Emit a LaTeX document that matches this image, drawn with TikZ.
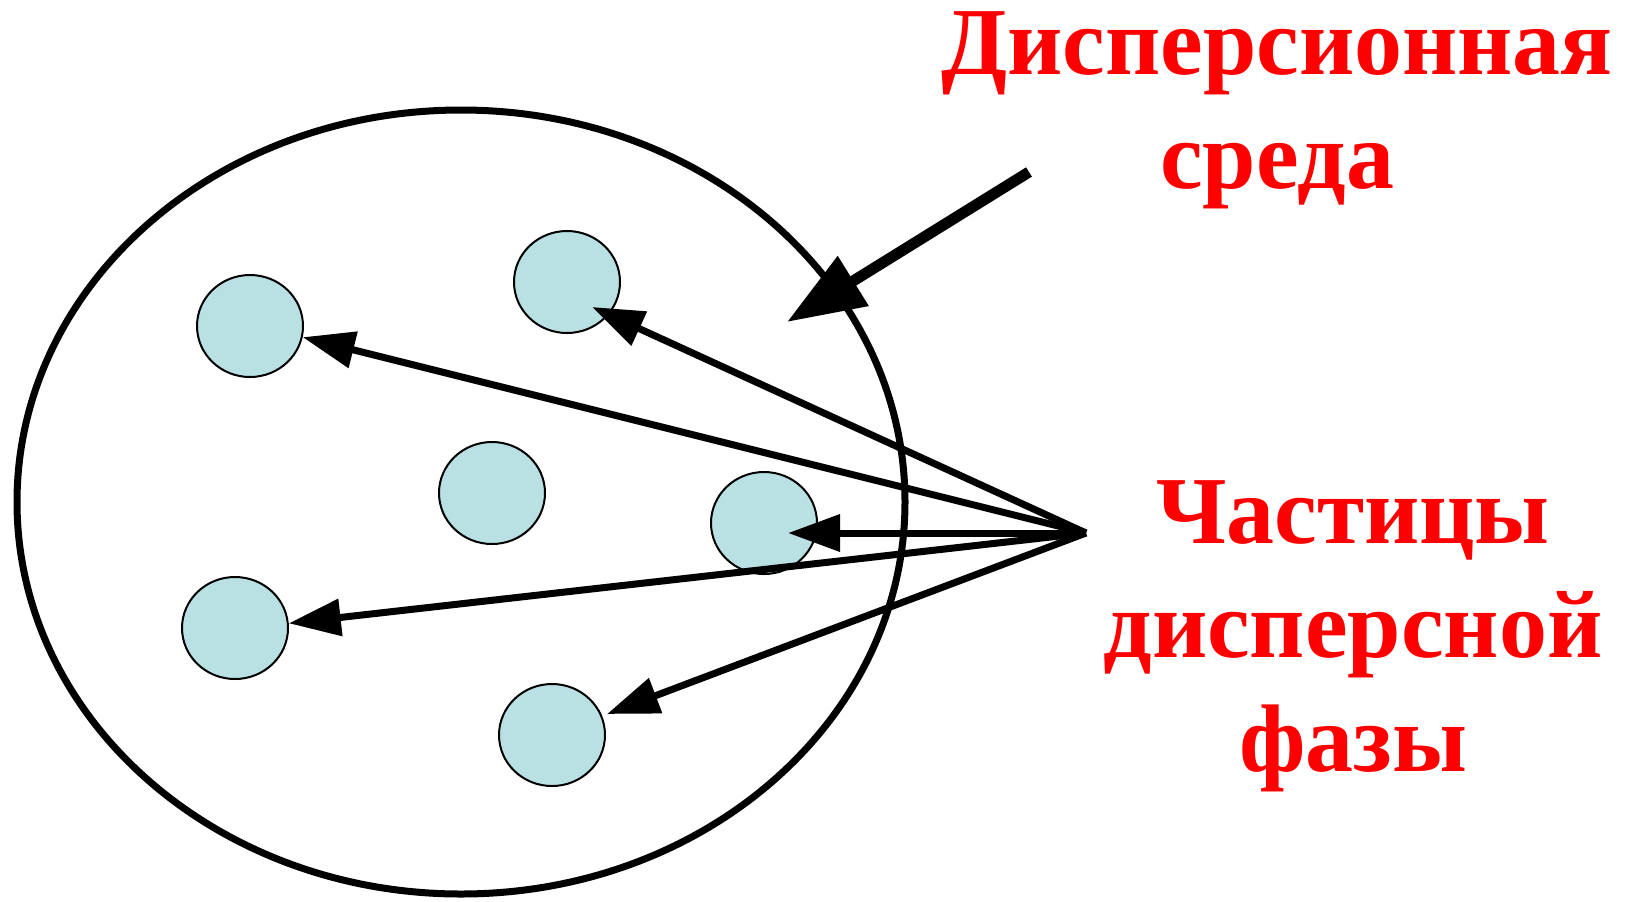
\documentclass[tikz,border=0pt]{standalone}
\usepackage{fontspec}
\setmainfont{Liberation Serif}
\usepackage{tikz}
\usetikzlibrary{arrows.meta,positioning,calc,shapes.geometric}
\definecolor{ParticleBlue}{HTML}{B9E0E3}
\definecolor{LabelRed}{HTML}{FF0000}

\begin{document}
\begin{tikzpicture}[x=0.5pt,y=-0.5pt,>=Latex]
\tikzstyle{particle}=[ellipse,draw=black,line width=1pt,fill=ParticleBlue,
                      minimum width=53pt,minimum height=51pt,inner sep=0pt]
\tikzstyle{ray}=[-{Triangle[length=26pt,width=18pt]},line width=3.5pt]
\tikzstyle{lbl}=[text=LabelRed,align=center,inner sep=0pt,
                 font=\bfseries\fontsize{48}{57}\selectfont]
\useasboundingbox (0,0) rectangle (1632,901);
\node[ellipse,draw=black,line width=3.5pt,minimum width=444pt,minimum height=392pt,
      inner sep=0pt] (medium) at (461,502) {};
\node[particle] (p1) at (250,326) {};
\node[particle] (p2) at (567,282) {};
\node[particle] (p3) at (492,493) {};
\node[particle] (p4) at (764,523) {};
\node[particle] (p5) at (235,628) {};
\node[particle] (p6) at (552,735) {};
\node[lbl,anchor=base] (medlbl) at (1277,188) {Дисперсионная\\среда};
\node[lbl,anchor=base] (phaselbl) at (1353,771) {Частицы\\дисперсной\\фазы};
\coordinate (src) at (1086,533);
\coordinate (medtail) at (1029,172);
\coordinate (medtip) at (787,322);
\draw[ray] (src) -- (p1.-12);
\draw[ray] (src) -- ($(p2)+(25,25)$);
\draw[ray] (src) -- ($(p4)+(24,10)$);
\draw[ray] (src) -- (p5.5);
\draw[ray] (src) -- ($(p6)+(55,-21)$);
\draw[-{Triangle[length=39pt,width=28pt]},line width=5.5pt] (medtail) -- (medtip);
\end{tikzpicture}
\end{document}
